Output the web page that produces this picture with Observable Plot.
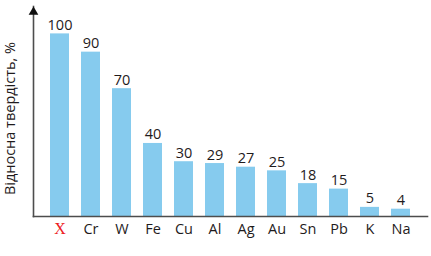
<!DOCTYPE html>
<html>
<head>
<meta charset="utf-8">
<script src="https://cdn.jsdelivr.net/npm/d3@7"></script>
<script src="https://cdn.jsdelivr.net/npm/@observablehq/plot@0.6"></script>
<style>
  html, body { margin: 0; padding: 0; background: #fff; }
  #chart svg { display: block; }
</style>
</head>
<body>
<div id="chart"></div>
<script>
const metals = ["X", "Cr", "W", "Fe", "Cu", "Al", "Ag", "Au", "Sn", "Pb", "K", "Na"];
const hardness = [100, 90, 70, 40, 30, 29, 27, 25, 18, 15, 5, 4];
const yLabel = "Відносна твердість, %";

const data = metals.map((m, i) => ({name: m, value: hardness[i]}));
const textColor = "#1f1b1c";
const axisColor = "#4d4d4d";
const font = "'Open Sans', sans-serif";

const chart = Plot.plot({
  width: 431,
  height: 256,
  marginLeft: 33,
  marginRight: 4,
  marginTop: 6,
  marginBottom: 40,
  style: {fontFamily: font, background: "#fff"},
  x: {domain: metals, paddingInner: 0.4, paddingOuter: 0.4, axis: null},
  y: {domain: [0, 115], axis: null},
  marks: [
    Plot.barY(data, {x: "name", y: "value", fill: "#86cbee"}),
    Plot.text(data, {x: "name", y: "value", text: d => String(d.value), lineAnchor: "bottom", dy: -4, fontSize: 14.5, fill: textColor, fontFamily: font}),
    Plot.frame({anchor: "left", stroke: axisColor, strokeWidth: 1.6}),
    Plot.frame({anchor: "bottom", stroke: axisColor, strokeWidth: 1.6}),
    Plot.dot([0], {frameAnchor: "top-left", symbol: "triangle", r: 3.6, fill: "#111", stroke: "none", dy: 5.5}),
    Plot.text(data.filter(d => d.name !== "X"), {x: "name", text: "name", frameAnchor: "bottom", lineAnchor: "top", dy: 7, fontSize: 14.5, fill: textColor, fontFamily: font}),
    Plot.text(data.filter(d => d.name === "X"), {x: "name", text: "name", frameAnchor: "bottom", lineAnchor: "top", dy: 6, fontSize: 16, fill: "#ed1c24", fontFamily: "'Liberation Serif', serif"}),
    Plot.text([yLabel], {text: d => d, frameAnchor: "left", textAnchor: "middle", rotate: -90, dx: -23, dy: 7, fontSize: 14.5, fill: textColor, fontFamily: font})
  ]
});
document.getElementById("chart").appendChild(chart);
</script>
</body>
</html>
